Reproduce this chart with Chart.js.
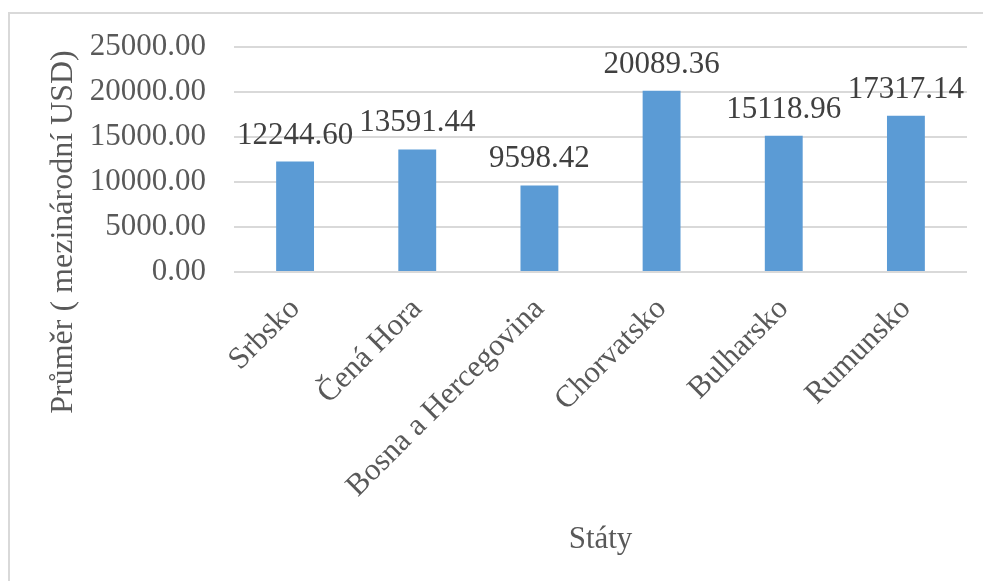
<!DOCTYPE html>
<html>
<head>
<meta charset="utf-8">
<script src="https://cdn.jsdelivr.net/npm/chart.js@4.4.0/dist/chart.umd.min.js"></script>
<style>
  html, body { margin: 0; padding: 0; background: #fff; overflow: hidden; }
  #frame {
    position: absolute; left: 8px; top: 12px; width: 1000px; height: 600px;
    border-top: 2px solid #d9d9d9; border-left: 2px solid #d9d9d9;
  }
  #wrap { position: absolute; left: 0; top: 0; width: 983px; height: 581px; }
</style>
</head>
<body>
<div id="frame"></div>
<div id="wrap"><canvas id="barCanvas" width="983" height="581"></canvas></div>
<script>
const staty = ["Srbsko", "Čená Hora", "Bosna a Hercegovina", "Chorvatsko", "Bulharsko", "Rumunsko"];
const prumer = [12244.60, 13591.44, 9598.42, 20089.36, 15118.96, 17317.14];
const yTicks = [0, 5000, 10000, 15000, 20000, 25000];

const serif = "'Liberation Serif', 'Times New Roman', serif";
const textGray = "#595959";
const yTitle = "Průměr ( mezinárodní USD)";

// popisky hodnot nad sloupci + svislý nadpis osy Y
const valueLabels = {
    id: "valueLabels",
    afterDatasetsDraw(chart) {
        const ctx = chart.ctx;
        const meta = chart.getDatasetMeta(0);
        ctx.save();
        ctx.font = "31px " + serif;
        ctx.fillStyle = "#404040";
        ctx.textAlign = "center";
        ctx.textBaseline = "alphabetic";
        meta.data.forEach((bar, i) => {
            ctx.fillText(prumer[i].toFixed(2), bar.x, bar.y - 18);
        });
        ctx.restore();

        ctx.save();
        ctx.translate(64, 232);
        ctx.rotate(-Math.PI / 2);
        ctx.font = "32px " + serif;
        ctx.fillStyle = textGray;
        ctx.textAlign = "center";
        ctx.textBaseline = "middle";
        ctx.fillText(yTitle, 0, 0);
        ctx.restore();
    }
};

const barCanvas = document.getElementById("barCanvas");

const barChart = new Chart(barCanvas, {
    type: "bar",
    data: {
        labels: staty,
        datasets: [{
            data: prumer,
            backgroundColor: "#5b9bd5",
            categoryPercentage: 1,
            barPercentage: 0.31
        }]
    },
    options: {
        responsive: false,
        animation: false,
        layout: {
            padding: { left: 0, right: 16, top: 28, bottom: 23 }
        },
        plugins: {
            legend: { display: false },
            tooltip: { enabled: false }
        },
        scales: {
            x: {
                afterFit(scale) { scale.height = 286; },
                grid: { display: false, drawTicks: false },
                border: { display: false },
                ticks: {
                    color: textGray,
                    font: { family: serif, size: 31 },
                    maxRotation: 45,
                    minRotation: 45,
                    padding: 19
                },
                title: {
                    display: true,
                    text: "Státy",
                    color: textGray,
                    font: { family: serif, size: 31 },
                    padding: { top: 0, bottom: 0 }
                }
            },
            y: {
                min: 0,
                max: 25000,
                afterFit(scale) { scale.width = 234; },
                afterBuildTicks(scale) {
                    scale.ticks = yTicks.map(v => ({ value: v }));
                },
                grid: { color: "#d9d9d9", lineWidth: 2, drawTicks: false },
                border: { display: false },
                ticks: {
                    color: textGray,
                    font: { family: serif, size: 31 },
                    padding: 28,
                    callback: v => Number(v).toFixed(2)
                }
            }
        }
    },
    plugins: [valueLabels]
});
</script>
</body>
</html>
